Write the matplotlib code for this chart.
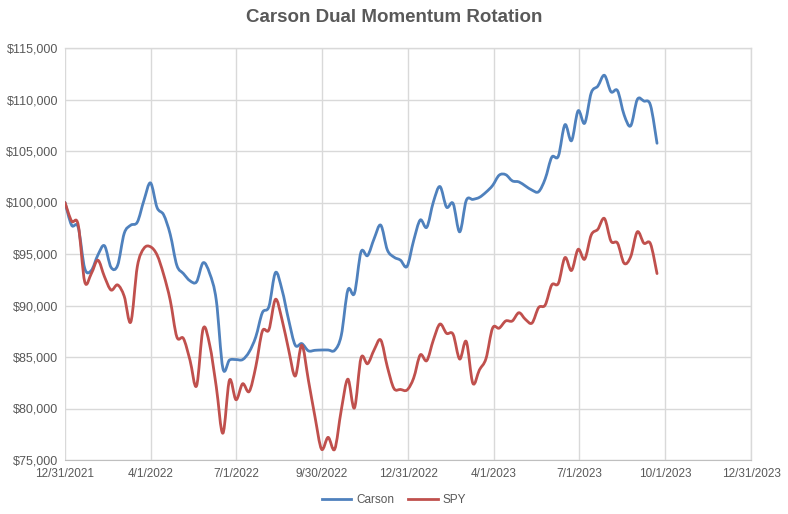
import matplotlib
matplotlib.use('Agg')

import numpy as np
import pandas as pd
import matplotlib.pyplot as plt
import matplotlib.dates as mdates
from matplotlib.path import Path
from matplotlib.patches import PathPatch
from matplotlib.lines import Line2D
from matplotlib.ticker import FuncFormatter, FixedLocator

plt.rcParams['font.family'] = ['Liberation Sans', 'DejaVu Sans']

# weekly closes (Fridays) starting 12/31/2021
start_date = '2021-12-31'
n_weeks = 91

carson = [100000, 97800, 97600, 93600, 93400, 94900, 95800, 93700, 93900, 97000,
          97800, 98100, 100200, 101900, 99500, 98800, 96900, 93900, 93100, 92400,
          92300, 94150, 93100, 90500, 83900, 84700, 84750, 84750, 85500, 86950,
          89300, 89900, 93200, 91500, 88600, 86150, 86300, 85600, 85650, 85680,
          85680, 85650, 87100, 91500, 91180, 95200, 94850, 96500, 97800, 95400,
          94700, 94400, 93800, 96300, 98300, 97600, 100050, 101550, 99550, 99900,
          97150, 100200, 100300, 100500, 101000, 101650, 102650, 102700, 102100, 102000,
          101600, 101200, 101050, 102300, 104400, 104500, 107550, 106000, 108900, 107700,
          110650, 111300, 112350, 110750, 110850, 108500, 107450, 110000, 109850, 109450,
          105750]

spy = [100000, 98200, 97850, 92300, 93100, 94400, 92800, 91500, 92000, 90900,
       88400, 93800, 95550, 95700, 94900, 93000, 90500, 86950, 86800, 84700,
       82200, 87750, 86150, 82100, 77600, 82750, 80850, 82400, 81650, 84050,
       87500, 87650, 90600, 88600, 85700, 83150, 86150, 82750, 79200, 76050,
       77200, 76050, 79850, 82850, 80050, 84900, 84350, 85700, 86650, 84050,
       81950, 81850, 81800, 82950, 85200, 84650, 86650, 88200, 87300, 87200,
       84800, 86500, 82450, 83750, 84850, 87800, 87800, 88500, 88500, 89300,
       88650, 88300, 89800, 90050, 92000, 92150, 94650, 93400, 95450, 94500,
       96850, 97400, 98450, 96250, 96050, 94100, 94750, 97150, 96050, 96000,
       93100]

x_ticks = ['2021-12-31', '2022-04-01', '2022-07-01', '2022-09-30', '2022-12-31',
           '2023-04-01', '2023-07-01', '2023-10-01', '2023-12-31']
y_ticks = [75000, 80000, 85000, 90000, 95000, 100000, 105000, 110000, 115000]

dates = pd.date_range(start_date, periods=n_weeks, freq='7D')
xd = mdates.date2num(dates.to_pydatetime())

BLUE = '#4f81bd'
RED = '#c0504d'
GREY = '#595959'
GRID = '#d9d9d9'


def smooth_path(x, y):
    # Excel style smoothed line: cubic bezier through every point
    p = np.column_stack([x, y]).astype(float)
    pp = np.vstack([p[0], p, p[-1]])
    verts = [p[0]]
    codes = [Path.MOVETO]
    for i in range(len(p) - 1):
        c1 = pp[i + 1] + (pp[i + 2] - pp[i]) / 6.0
        c2 = pp[i + 2] - (pp[i + 3] - pp[i + 1]) / 6.0
        verts += [c1, c2, pp[i + 2]]
        codes += [Path.CURVE4] * 3
    return Path(verts, codes)


fig = plt.figure(figsize=(7.88, 5.14), dpi=100)
ax = fig.add_axes([65 / 788, 1 - 460 / 514, (751 - 65) / 788, (460 - 48) / 514])

for vals, col in [(carson, BLUE), (spy, RED)]:
    ax.add_patch(PathPatch(smooth_path(xd, vals), facecolor='none',
                           edgecolor=col, lw=2.0, capstyle='round', joinstyle='round'))

xt = mdates.date2num(pd.to_datetime(x_ticks).to_pydatetime())
ax.set_xlim(xt[0], xt[-1])
ax.set_ylim(75000, 115000)
ax.xaxis.set_major_locator(FixedLocator(xt))
ax.set_xticklabels([f'{d.month}/{d.day}/{d.year}' for d in pd.to_datetime(x_ticks)])
ax.yaxis.set_major_locator(FixedLocator(y_ticks))
ax.yaxis.set_major_formatter(FuncFormatter(lambda v, p: f'${v:,.0f}'))

ax.grid(True, color=GRID, lw=1)
ax.set_axisbelow(True)
# edge gridlines so they are not half clipped
ax.axvline(xt[-1], color=GRID, lw=1, clip_on=False, zorder=0.5)
ax.axhline(y_ticks[-1], color=GRID, lw=1, clip_on=False, zorder=0.5)
for s in ['top', 'right', 'left']:
    ax.spines[s].set_visible(False)
ax.spines['bottom'].set_color('#bfbfbf')
ax.tick_params(axis='both', length=0, colors=GREY)
ax.tick_params(axis='x', labelsize=8.5, pad=6)
ax.tick_params(axis='y', labelsize=9, pad=5)

fig.text(0.5, 1 - 18 / 514, 'Carson Dual Momentum Rotation', ha='center', va='center',
         fontsize=13.5, fontweight='bold', color=GREY)

handles = [Line2D([], [], color=BLUE, lw=2.0), Line2D([], [], color=RED, lw=2.0)]
fig.legend(handles, ['Carson', 'SPY'], loc='center', bbox_to_anchor=(0.5, 1 - 500 / 514),
           ncol=2, frameon=False, fontsize=8.5, labelcolor=GREY, handlelength=2.5,
           columnspacing=1.2, handletextpad=0.4)

fig.savefig('out.png', dpi=100)
